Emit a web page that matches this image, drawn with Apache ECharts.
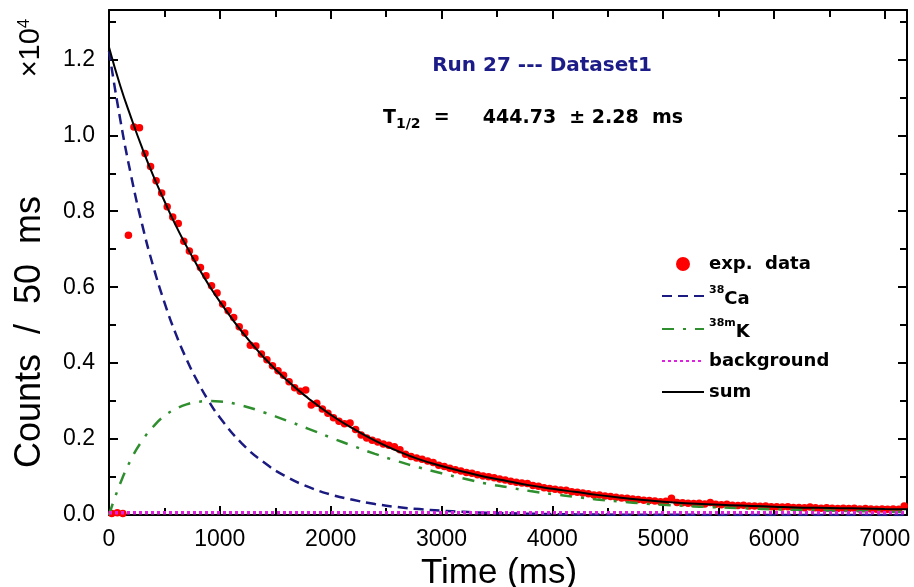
<!DOCTYPE html>
<html>
<head>
<meta charset="utf-8">
<script src="https://cdn.jsdelivr.net/npm/echarts@6/dist/echarts.min.js"></script>
<style>
  html, body { margin: 0; padding: 0; background: #fff; }
  #chart { width: 914px; height: 587px; }
</style>
</head>
<body>
<div id="chart"></div>
<script>
// fit curves (counts / 50 ms, in units of 1e4)
const fitTime = [0, 100, 200, 300, 400, 500, 600, 700, 800, 900, 1000,
  1200, 1400, 1600, 1800, 2000, 2200, 2400, 2600, 2800, 3000,
  3200, 3400, 3600, 3800, 4000, 4200, 4400, 4600, 4800, 5000,
  5200, 5400, 5600, 5800, 6000, 6200, 6400, 6600, 6800, 7000, 7200];
const caFit = [1.222, 1.044, 0.893, 0.764, 0.654, 0.560, 0.479, 0.410, 0.351, 0.300, 0.257,
  0.188, 0.138, 0.101, 0.074, 0.054, 0.040, 0.029, 0.021, 0.0155, 0.0113,
  0.0083, 0.0061, 0.0045, 0.0033, 0.0024, 0.0018, 0.0013, 0.0009, 0.0007, 0.0005,
  0.0004, 0.0003, 0.0002, 0.0001, 0, 0, 0, 0, 0, 0, 0];
const kFit = [0, 0.082, 0.147, 0.196, 0.233, 0.261, 0.279, 0.2915, 0.298, 0.300, 0.299,
  0.288, 0.270, 0.249, 0.227, 0.204, 0.182, 0.161, 0.142, 0.125, 0.110,
  0.096, 0.083, 0.073, 0.063, 0.055, 0.048, 0.041, 0.036, 0.031, 0.027,
  0.024, 0.021, 0.019, 0.017, 0.015, 0.0135, 0.012, 0.011, 0.010, 0.009, 0.0085];
const sumFit = [1.232, 1.132, 1.046, 0.966, 0.893, 0.827, 0.764, 0.7075, 0.655, 0.606, 0.562,
  0.482, 0.414, 0.356, 0.307, 0.264, 0.228, 0.196, 0.169, 0.1465, 0.129,
  0.114, 0.100, 0.089, 0.078, 0.069, 0.061, 0.053, 0.046, 0.040, 0.035,
  0.031, 0.028, 0.026, 0.024, 0.022, 0.020, 0.019, 0.018, 0.017, 0.016, 0.015];
const bgTime = [0, 7200];
const bgFit = [0.006, 0.006];

// measured counts, 50 ms bins (bin centres)
const expTime = [
  25, 75, 125, 175, 225, 275, 325, 375, 425, 475,
  525, 575, 625, 675, 725, 775, 825, 875, 925, 975,
  1025, 1075, 1125, 1175, 1225, 1275, 1325, 1375, 1425, 1475,
  1525, 1575, 1625, 1675, 1725, 1775, 1825, 1875, 1925, 1975,
  2025, 2075, 2125, 2175, 2225, 2275, 2325, 2375, 2425, 2475,
  2525, 2575, 2625, 2675, 2725, 2775, 2825, 2875, 2925, 2975,
  3025, 3075, 3125, 3175, 3225, 3275, 3325, 3375, 3425, 3475,
  3525, 3575, 3625, 3675, 3725, 3775, 3825, 3875, 3925, 3975,
  4025, 4075, 4125, 4175, 4225, 4275, 4325, 4375, 4425, 4475,
  4525, 4575, 4625, 4675, 4725, 4775, 4825, 4875, 4925, 4975,
  5025, 5075, 5125, 5175, 5225, 5275, 5325, 5375, 5425, 5475,
  5525, 5575, 5625, 5675, 5725, 5775, 5825, 5875, 5925, 5975,
  6025, 6075, 6125, 6175, 6225, 6275, 6325, 6375, 6425, 6475,
  6525, 6575, 6625, 6675, 6725, 6775, 6825, 6875, 6925, 6975,
  7025, 7075, 7125, 7175];
const expCounts = [
  0.004, 0.006, 0.004, 0.737, 1.022, 1.020, 0.952, 0.918, 0.880, 0.848,
  0.812, 0.785, 0.768, 0.721, 0.695, 0.676, 0.652, 0.630, 0.604, 0.585,
  0.556, 0.538, 0.520, 0.496, 0.479, 0.447, 0.445, 0.424, 0.409, 0.393,
  0.380, 0.368, 0.351, 0.335, 0.326, 0.329, 0.290, 0.294, 0.279, 0.268,
  0.256, 0.247, 0.240, 0.242, 0.225, 0.211, 0.203, 0.197, 0.192, 0.187,
  0.184, 0.180, 0.172, 0.160, 0.154, 0.150, 0.147, 0.142, 0.138, 0.131,
  0.128, 0.123, 0.119, 0.116, 0.112, 0.110, 0.106, 0.103, 0.101, 0.098,
  0.095, 0.092, 0.089, 0.086, 0.084, 0.083, 0.078, 0.076, 0.072, 0.070,
  0.068, 0.066, 0.065, 0.061, 0.060, 0.058, 0.056, 0.053, 0.053, 0.050,
  0.049, 0.047, 0.045, 0.044, 0.042, 0.041, 0.039, 0.038, 0.037, 0.035,
  0.036, 0.044, 0.033, 0.032, 0.031, 0.030, 0.031, 0.029, 0.033, 0.028,
  0.027, 0.028, 0.026, 0.025, 0.026, 0.024, 0.024, 0.023, 0.024, 0.022,
  0.022, 0.021, 0.022, 0.020, 0.020, 0.019, 0.021, 0.019, 0.018, 0.019,
  0.018, 0.017, 0.018, 0.017, 0.018, 0.016, 0.017, 0.016, 0.015, 0.016,
  0.015, 0.016, 0.015, 0.024];

const legendNames = ['exp. data', '38Ca', '38mK', 'background', 'sum'];
const legendLabels = {
  'exp. data': 'exp.  data',
  '38Ca': '{sup|38}{t|Ca}',
  '38mK': '{sup|38m}{t|K}',
  'background': 'background',
  'sum': 'sum'
};

const FONT = 'Liberation Sans';
const BOLD = 'DejaVu Sans';
const zip = (xs, ys) => xs.map((x, i) => [x, ys[i]]);

const chart = echarts.init(document.getElementById('chart'), null, { renderer: 'canvas' });

const axisCommon = {
  axisLine: { show: true, onZero: false, lineStyle: { color: '#000', width: 2 } },
  axisTick: { show: true, inside: true, length: 9, lineStyle: { color: '#000', width: 2 } },
  minorTick: { show: true, splitNumber: 2, length: 7, lineStyle: { color: '#000', width: 2 } },
  splitLine: { show: false }
};

const option = {
  animation: false,
  backgroundColor: '#fff',
  grid: { left: 109, top: 10, right: 7, bottom: 72, outerBoundsMode: 'none', containLabel: false },
  xAxis: [{
    type: 'value', min: 0, max: 7200, interval: 1000, position: 'bottom',
    ...axisCommon,
    axisLabel: { color: '#000', fontSize: 23, fontFamily: FONT, margin: 13, showMaxLabel: false,
      formatter: v => String(v) },
    name: 'Time (ms)', nameLocation: 'middle', nameGap: 38,
    nameTextStyle: { color: '#000', fontSize: 35, fontFamily: FONT, padding: [0, 18, 0, 0] }
  }, {
    type: 'value', min: 0, max: 7200, interval: 1000, position: 'top',
    ...axisCommon,
    axisLabel: { show: false }
  }],
  yAxis: [{
    type: 'value', min: 0, max: 1.33, interval: 0.2, position: 'left',
    ...axisCommon,
    axisLabel: { color: '#000', fontSize: 23, fontFamily: FONT, margin: 14, showMaxLabel: false,
      formatter: v => v.toFixed(1) }
  }, {
    type: 'value', min: 0, max: 1.33, interval: 0.2, position: 'right',
    ...axisCommon,
    axisLabel: { show: false }
  }],
  legend: {
    data: legendNames.map(n => n === 'exp. data' ? { name: n } : { name: n, itemStyle: { opacity: 0 } }),
    orient: 'vertical',
    left: 656, top: 248,
    itemWidth: 42, itemHeight: 14, itemGap: 9,
    formatter: name => legendLabels[name],
    textStyle: {
      color: '#000', fontSize: 18, fontWeight: 'bold', fontFamily: BOLD, lineHeight: 22,
      rich: {
        sup: { fontSize: 11, fontWeight: 'bold', fontFamily: BOLD, verticalAlign: 'top', lineHeight: 22 },
        t: { fontSize: 18, fontWeight: 'bold', fontFamily: BOLD, lineHeight: 22, padding: [6, 0, 0, 0] }
      }
    }
  },
  graphic: [{
    type: 'text', x: 542, y: 66,
    style: { text: 'Run 27 --- Dataset1', fill: '#1c1c88', font: 'bold 20px "DejaVu Sans"',
      align: 'center', verticalAlign: 'middle' }
  }, {
    type: 'text', x: 383, y: 118,
    style: {
      text: '{t|T}{s|1/2}{t|  =     444.73  ± 2.28  ms}',
      fill: '#000', align: 'left', verticalAlign: 'middle',
      rich: {
        t: { fontSize: 19, fontWeight: 'bold', fontFamily: BOLD, lineHeight: 28 },
        s: { fontSize: 14, fontWeight: 'bold', fontFamily: BOLD, lineHeight: 28, padding: [12, 0, 0, 0] }
      }
    }
  }, {
    type: 'text', x: 30, y: 332, rotation: Math.PI / 2,
    style: { text: 'Counts  /  50  ms', fill: '#000', font: '36px "Liberation Sans"',
      align: 'center', verticalAlign: 'middle' }
  }, {
    type: 'text', x: 31, y: 48, rotation: Math.PI / 2,
    style: {
      text: '×10{s|4}', fill: '#000', align: 'center', verticalAlign: 'middle',
      rich: {
        s: { fontSize: 17, fontFamily: FONT, verticalAlign: 'top', padding: [0, 0, 14, 0] }
      },
      font: '29px "Liberation Sans"'
    }
  }],
  series: [{
    name: 'exp. data', type: 'scatter', z: 2,
    symbol: 'circle', symbolSize: 7.5,
    itemStyle: { color: '#ff0000', opacity: 1 },
    data: zip(expTime, expCounts)
  }, {
    name: '38Ca', type: 'line', z: 3, symbol: 'none', smooth: true,
    lineStyle: { color: '#1a1a80', width: 2.5, type: [10, 6] },
    itemStyle: { color: '#1a1a80' },
    data: zip(fitTime, caFit)
  }, {
    name: '38mK', type: 'line', z: 3, symbol: 'none', smooth: true,
    lineStyle: { color: '#2f8f2f', width: 2.5, type: [12, 9, 3, 9] },
    itemStyle: { color: '#2f8f2f' },
    data: zip(fitTime, kFit)
  }, {
    name: 'background', type: 'line', z: 3, symbol: 'none',
    lineStyle: { color: '#e020e0', width: 3.5, type: [3, 3] },
    itemStyle: { color: '#e020e0' },
    data: zip(bgTime, bgFit)
  }, {
    name: 'sum', type: 'line', z: 4, symbol: 'none', smooth: true,
    lineStyle: { color: '#000', width: 2 },
    itemStyle: { color: '#000' },
    data: zip(fitTime, sumFit)
  }]
};

chart.setOption(option);
</script>
</body>
</html>
